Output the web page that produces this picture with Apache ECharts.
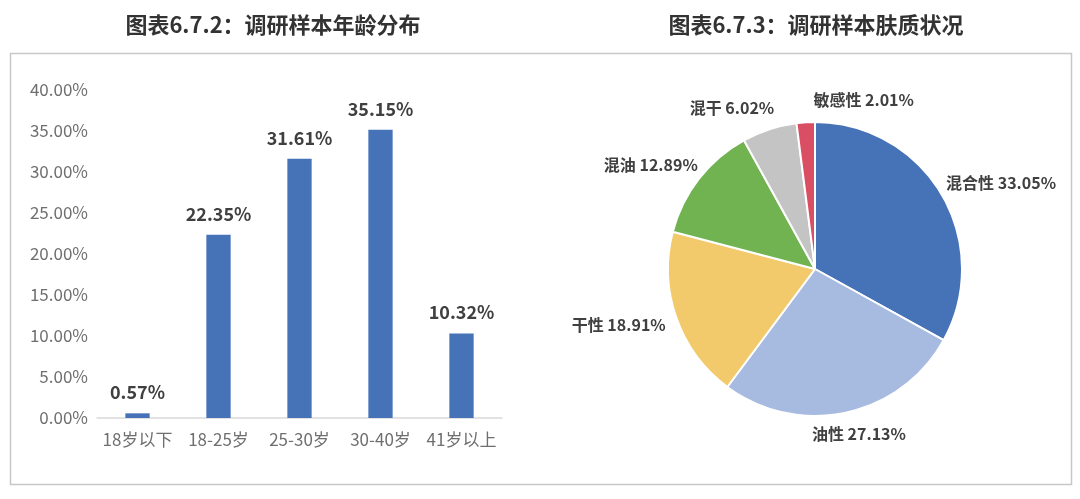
<!DOCTYPE html>
<html><head><meta charset="utf-8">
<script src="https://cdn.jsdelivr.net/npm/echarts@6/dist/echarts.min.js"></script>
<style>html,body{margin:0;padding:0;background:#fff}#c{width:1080px;height:499px}</style>
</head><body><div id="c"></div>
<script>
const ageCategories = ['18岁以下','18-25岁','25-30岁','30-40岁','41岁以上'];
const ageValues = [0.57, 22.35, 31.61, 35.15, 10.32];
const yTicksMax = 40, yTickStep = 5;
const skinNames = ['混合性','油性','干性','混油','混干','敏感性'];
const skinValues = [33.05, 27.13, 18.91, 12.89, 6.02, 2.01];
const skinColors = ['#4672B8','#A7BADF','#F2CA6B','#71B351','#C4C4C4','#D94E63'];

const PIE_C = [815, 269], PIE_R = 147, GAP = 14;
const labelNudge = [[0,0],[0,0],[0,0],[0,0],[-20,0],[62,0]];
const total = skinValues.reduce((a,b)=>a+b,0);
const FONT = '"Noto Sans CJK SC","Noto Sans",sans-serif';

const chart = echarts.init(document.getElementById('c'));
chart.setOption({
  backgroundColor:'#fff',
  animation:false,
  graphic:[{type:'rect',shape:{x:10.5,y:53.5,width:1061,height:431},style:{fill:'none',stroke:'#C8C8C8',lineWidth:1.5},z:-1}],
  title:[
    {text:'图表6.7.2：调研样本年龄分布',left:268,top:9,textAlign:'center',textStyle:{fontFamily:FONT,fontSize:22,fontWeight:'bold',color:'#333'}},
    {text:'图表6.7.3：调研样本肤质状况',left:811,top:9,textAlign:'center',textStyle:{fontFamily:FONT,fontSize:22,fontWeight:'bold',color:'#333'}}
  ],
  grid:{left:97,right:578,top:90,bottom:81},
  xAxis:{type:'category',data:ageCategories,
    axisLine:{lineStyle:{color:'#D9D9D9',width:1.5}},axisTick:{show:false},
    axisLabel:{interval:0,fontFamily:FONT,fontSize:17,color:'#6f6f6f',margin:13}},
  yAxis:{type:'value',min:0,max:yTicksMax,interval:yTickStep,
    splitLine:{show:false},axisLine:{show:false},axisTick:{show:false},
    axisLabel:{fontFamily:FONT,fontSize:17,color:'#6f6f6f',margin:9,formatter:v=>v.toFixed(2)+'%'}},
  series:[
    {type:'bar',data:ageValues,barWidth:'30%',itemStyle:{color:'#4672B8'},
     label:{show:true,position:'top',distance:12,fontFamily:FONT,fontSize:18,fontWeight:'bold',color:'#404040',formatter:p=>p.value.toFixed(2)+'%'}},
    {type:'pie',center:PIE_C,radius:PIE_R,startAngle:90,clockwise:true,
     data:skinNames.map((n,i)=>({name:n,value:skinValues[i],itemStyle:{color:skinColors[i]}})),
     itemStyle:{borderColor:'#fff',borderWidth:2},
     label:{show:true,position:'outside',overflow:'none',fontFamily:FONT,fontSize:16,fontWeight:'bold',color:'#404040',
       formatter:p=>p.name+' '+p.value.toFixed(2)+'%'},
     labelLine:{show:false},
     labelLayout:function(p){
       const i=p.dataIndex;
       let before=0; for(let k=0;k<i;k++) before+=skinValues[k];
       const mid=(before+skinValues[i]/2)/total*2*Math.PI;
       const ux=Math.sin(mid), uy=-Math.cos(mid);
       const w=p.labelRect.width, h=p.labelRect.height;
       const x=PIE_C[0]+ux*(PIE_R+GAP)+ux*w/2+labelNudge[i][0];
       const y=PIE_C[1]+uy*(PIE_R+GAP)+uy*h/2+labelNudge[i][1];
       return {x:x,y:y,align:'center',verticalAlign:'middle'};
     }}
  ]
});
</script></body></html>
